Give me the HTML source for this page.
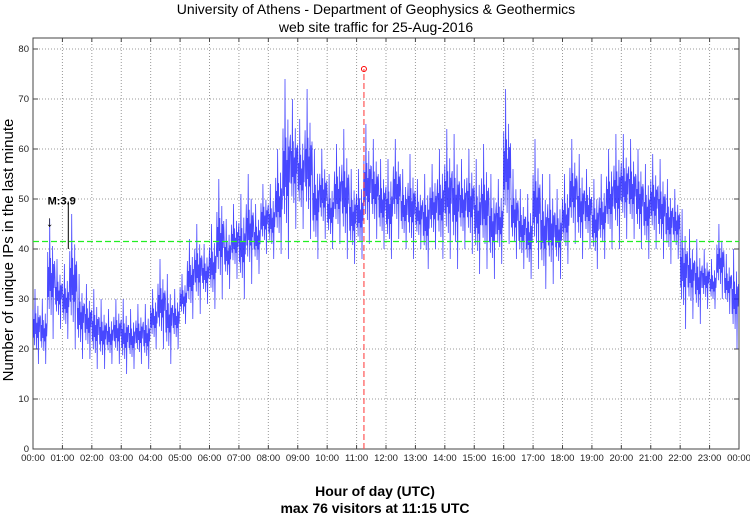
<!DOCTYPE html>
<html><head><meta charset="utf-8"><style>
body{margin:0;background:#fff;font-family:"Liberation Sans",sans-serif}
svg text{font-family:"Liberation Sans",sans-serif}
</style></head><body>
<svg id="c" width="750" height="515" viewBox="0 0 750 515">
<text x="376" y="14" font-size="14" text-anchor="middle">University of Athens - Department of Geophysics &amp; Geothermics</text>
<text x="376" y="32" font-size="14" text-anchor="middle">web site traffic for 25-Aug-2016</text>
<text x="375" y="496" font-size="14" font-weight="bold" text-anchor="middle">Hour of day (UTC)</text>
<text x="375" y="513" font-size="14" font-weight="bold" text-anchor="middle">max 76 visitors at 11:15 UTC</text>
<text transform="translate(13,250) rotate(-90)" font-size="15" text-anchor="middle">Number of unique IPs in the last minute</text>
<g id="grid"></g><g id="series"></g><g id="ann"></g>
</svg>
<script>
const hourLabels=["00:00","01:00","02:00","03:00","04:00","05:00","06:00","07:00","08:00","09:00","10:00","11:00","12:00","13:00","14:00","15:00","16:00","17:00","18:00","19:00","20:00","21:00","22:00","23:00","00:00"];
const yTicks=[0,10,20,30,40,50,60,70,80];
const binLo=[17,17,22,24, 22,20,18,18, 16,16,17,17, 15,16,17,16, 20,20,17,20, 25,26,27,29, 28,30,32,34, 30,33,35,39, 38,39,38,44, 44,42,38,42, 40,41,38,37, 38,41,42,40, 38,42,40,38, 40,36,40,38, 38,36,40,39, 35,36,34,37, 41,38,36,34, 36,32,33,34, 37,41,38,40, 36,38,40,40, 42,42,40,38, 40,38,37,38, 24,26,25,28, 28,30,27,20];
const binHi=[32,30,46,38, 37,47,35,33, 32,30,28,30, 30,28,29,29, 32,38,35,32, 35,42,45,41, 45,54,46,49, 51,55,49,53, 53,60,74,70, 66,72,60,60, 55,61,64,56, 56,65,62,58, 58,62,56,59, 54,55,57,60, 64,63,58,60, 58,61,55,54, 72,56,52,51, 62,55,55,52, 55,62,59,56, 54,55,60,63, 63,62,60,57, 59,58,54,52, 48,44,42,40, 38,45,39,40];
const meanValue=41.5, maxValue=76, maxHour=11.25, quakeHour=0.6, quakeLabel="M:3.9";
const X0=33,X1=739,Y0=449,Y80=49;
const x=h=>X0+(X1-X0)*h/24, y=v=>Y0-(Y0-Y80)*v/80;
const NS="http://www.w3.org/2000/svg";
function mk(t,a,p){const e=document.createElementNS(NS,t);for(const k in a)e.setAttribute(k,a[k]);p.appendChild(e);return e;}
const g=document.getElementById('grid');
const frame=mk('rect',{x:X0,y:38,width:X1-X0,height:Y0-38,fill:'none',stroke:'#444'},g);


hourLabels.forEach((l,i)=>{const xx=x(i);
 if(i>0&&i<24){const gl=mk('line',{x1:xx,x2:xx,y1:38,y2:Y0,stroke:'#999','stroke-dasharray':'1,2'},g);
 
 }
 mk('line',{x1:xx,x2:xx,y1:Y0,y2:Y0-4,stroke:'#444'},g);mk('line',{x1:xx,x2:xx,y1:38,y2:42,stroke:'#444'},g);
 const t=mk('text',{x:xx,y:461,'font-size':9.5,'text-anchor':'middle',fill:'#222'},g);t.textContent=l;
 
 });
yTicks.forEach(v=>{const yy=y(v);
 if(v>0){const gl=mk('line',{x1:X0,x2:X1,y1:yy,y2:yy,stroke:'#999','stroke-dasharray':'1,2'},g);
 
 }
 mk('line',{x1:X0,x2:X0+5,y1:yy,y2:yy,stroke:'#444'},g);mk('line',{x1:X1,x2:X1-5,y1:yy,y2:yy,stroke:'#444'},g);
 const t=mk('text',{x:X0-4,y:yy+3,'font-size':9.5,'text-anchor':'end',fill:'#222'},g);t.textContent=v;
 
 });
const s=document.getElementById('series');
const jit=[0.45,-0.3,0.2,-0.5,1,-0.2,0.35,-0.6,0.1,-0.3,0.55,-1,0.25,-0.15,0.3];
let d='';
binLo.forEach((lo,b)=>{const hi=binHi[b],mid=(lo+hi)/2,half=(hi-lo)/2;
 for(let k=0;k<15;k++){const h=(b*15+k)/60;const v=mid+half*jit[k];d+=(d?'L':'M')+x(h).toFixed(1)+','+y(v).toFixed(1);}});
const p=mk('path',{d:d,fill:'none',stroke:'#1a1aff','stroke-width':0.8,'stroke-opacity':0.8},s);


const a=document.getElementById('ann');
const ml=mk('line',{x1:X0,x2:X1,y1:y(meanValue),y2:y(meanValue),stroke:'#22ee22','stroke-dasharray':'6,3','stroke-width':1.2},a);


const rl=mk('line',{x1:x(maxHour),x2:x(maxHour),y1:Y0,y2:y(maxValue),stroke:'#ff5555','stroke-dasharray':'6,3','stroke-width':1.2},a);


const rc=mk('circle',{cx:x(maxHour),cy:y(maxValue),r:2.5,fill:'none',stroke:'#ff0000'},a);


const ql=mk('line',{x1:x(1.2),x2:x(1.2),y1:y(49.5),y2:y(40),stroke:'#000'},a);


const qt=mk('text',{x:x(quakeHour)-3,y:y(49.5)+3,'font-size':11,'font-weight':'bold'},a);qt.textContent=quakeLabel;


const qa=mk('text',{x:x(quakeHour)-1,y:y(44.5),'font-size':15,'text-anchor':'middle'},a);qa.textContent='↓';


</script>
</body></html>
